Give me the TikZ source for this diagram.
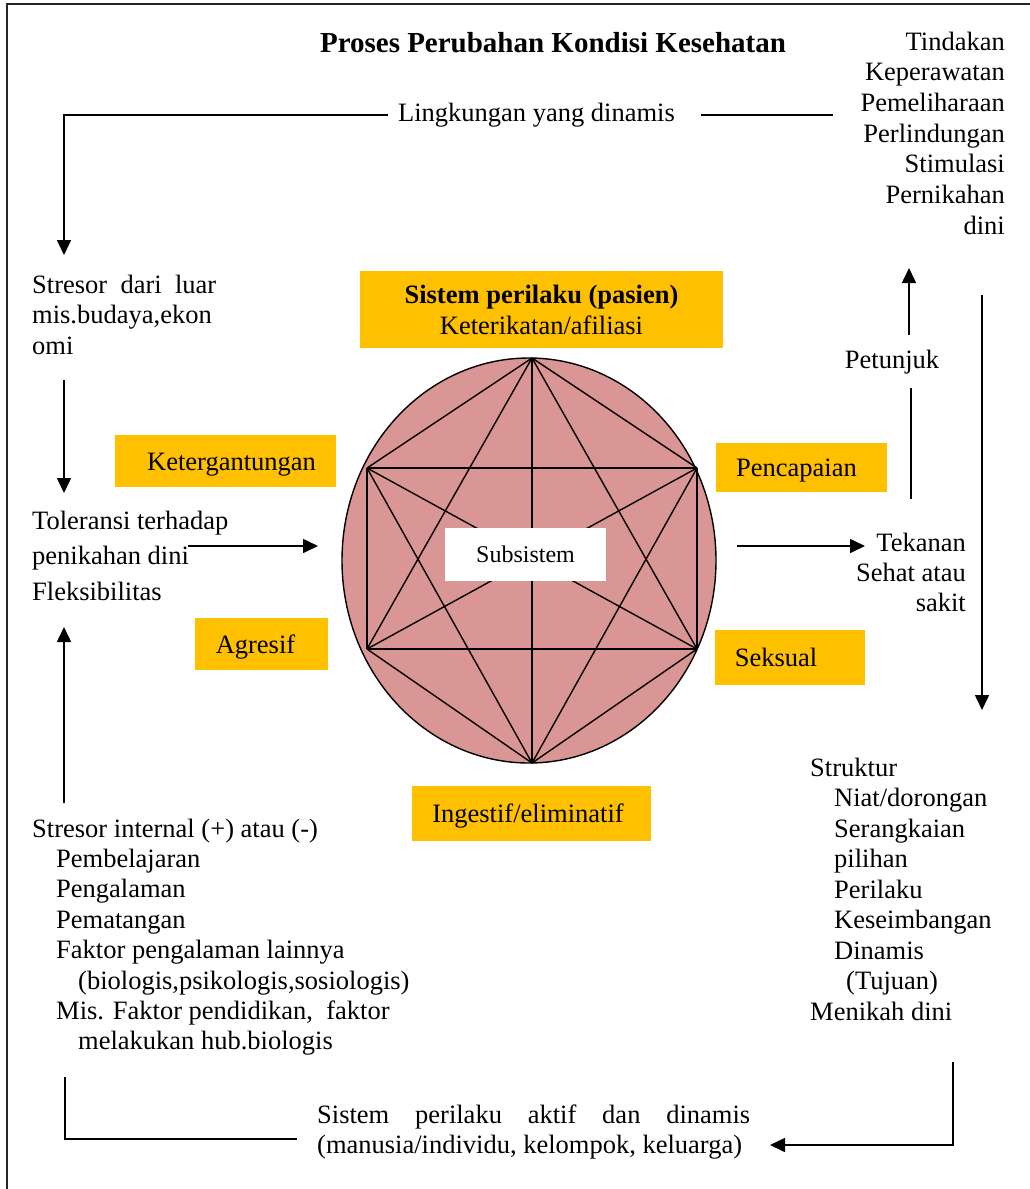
\documentclass[tikz,border=0pt]{standalone}
\usepackage{fontspec}
\setmainfont{Liberation Serif}
\usetikzlibrary{arrows.meta,shapes.geometric,calc}
\definecolor{boxc}{HTML}{FFC000}
\definecolor{ellc}{HTML}{D99694}
\tikzset{
  txt/.style={inner sep=0pt, font=\fontsize{26.5}{30.5}\selectfont},
  ybox/.style={fill=boxc, inner sep=0pt, font=\fontsize{26.5}{31}\selectfont},
  ybox1/.style={ybox, text height=22pt, text depth=4pt},
  conn/.style={line width=1.6pt},
  arr/.style={line width=1.6pt, -{Triangle[length=15pt,width=14pt]}},
  hexl/.style={line width=1.4pt},
}
\begin{document}
\begin{tikzpicture}[x=1pt,y=-1pt]
\useasboundingbox (0,0) rectangle (1030,1189);
% frame
\draw[line width=1.8pt, black!85] (1030,4) -- (7,4) -- (7,1189);

% title
\node[inner sep=0pt, font=\bfseries\fontsize{29}{33}\selectfont] (title) at (553,43) {Proses Perubahan Kondisi Kesehatan};

% top right list
\node[txt, align=right, anchor=north east, font=\fontsize{26.5}{30.67}\selectfont] (tind) at (1005,28.5)
  {\strut Tindakan\\Keperawatan\\Pemeliharaan\\Perlindungan\\Stimulasi\\Pernikahan\\dini};

% environment
\node[txt, inner xsep=10pt] (ling) at (536.5,115) {Lingkungan yang dinamis};

% left texts
\node[txt, align=left, anchor=north west] (sdl) at (32,271.6)
  {\strut\makebox[184pt][s]{Stresor dari luar}\\mis.budaya,ekon\\omi};
\node[txt, align=left, anchor=north west, font=\fontsize{26.5}{35.5}\selectfont] (tol) at (32,504.2)
  {\strut Toleransi terhadap\\penikahan dini\\Fleksibilitas};
\node[txt, align=left, anchor=north west, font=\fontsize{26.5}{30.4}\selectfont] (sint) at (32,815.7)
  {\strut Stresor internal (+) atau (-)\\
   \hspace*{24pt}Pembelajaran\\
   \hspace*{24pt}Pengalaman\\
   \hspace*{24pt}Pematangan\\
   \hspace*{24pt}Faktor pengalaman lainnya\\
   \hspace*{46pt}(biologis,psikologis,sosiologis)\\
   \hspace*{24pt}Mis. Faktor pendidikan,\ \ faktor\\
   \hspace*{46pt}melakukan hub.biologis};

% right texts
\node[txt] (pet) at (892,362) {Petunjuk};
\node[txt, align=right, anchor=north east, font=\fontsize{26.5}{30}\selectfont] (tek) at (966,530)
  {\strut Tekanan\\Sehat atau\\sakit};
\node[txt, align=left, anchor=north west] (str) at (810,754.6)
  {\strut Struktur\\
   \hspace*{24pt}Niat/dorongan\\
   \hspace*{24pt}Serangkaian\\
   \hspace*{24pt}pilihan\\
   \hspace*{24pt}Perilaku\\
   \hspace*{24pt}Keseimbangan\\
   \hspace*{24pt}Dinamis\\
   \hspace*{36pt}(Tujuan)\\
   Menikah dini};

% bottom text
\node[txt, align=left, anchor=north west, font=\fontsize{26.5}{30}\selectfont] (spad) at (317,1102)
  {\strut\makebox[433pt][s]{Sistem perilaku aktif dan dinamis}\\(manusia/individu, kelompok, keluarga)};

% yellow boxes
\node[ybox, minimum width=363pt, minimum height=77pt, align=center] (sys) at (541.5,309.5)
  {\textbf{Sistem perilaku (pasien)}\\Keterikatan/afiliasi};
\node[ybox1, minimum width=221pt, minimum height=52pt] (kete) at (225.5,461) {\hspace*{12pt}Ketergantungan};
\node[ybox1, minimum width=133pt, minimum height=52pt] (agr) at (261.5,644) {Agresif\hspace*{12pt}};
\node[ybox1, minimum width=171pt, minimum height=49pt] (penc) at (801.5,467.5) {Pencapaian\hspace*{10pt}};
\node[ybox1, minimum width=150pt, minimum height=55pt] (seks) at (790,657.5) {Seksual\hspace*{28pt}};
\node[ybox1, minimum width=239pt, minimum height=55pt] (inge) at (531.5,813.5) {Ingestif/eliminatif\hspace*{7pt}};

% ellipse with star
\node[ellipse, draw, fill=ellc, line width=1.4pt, inner sep=0pt, minimum width=374pt, minimum height=405pt] (ell) at (529,560.5) {};
\coordinate (hT) at (532,358);
\coordinate (hB) at (532,763);
\coordinate (hUL) at (367,468);
\coordinate (hUR) at (697,468);
\coordinate (hLL) at (367,649);
\coordinate (hLR) at (697,649);
\foreach \a/\b in {hT/hB,hT/hUL,hT/hUR,hT/hLL,hT/hLR,hB/hUL,hB/hUR,hB/hLL,hB/hLR,hUL/hUR,hUL/hLL,hUL/hLR,hUR/hLL,hUR/hLR,hLL/hLR}
  \draw[hexl, line join=round] (\a) -- (\b);
\node[fill=white, inner sep=0pt, minimum width=161pt, minimum height=53pt, font=\fontsize{24}{28}\selectfont] (subs) at (525.5,554.5) {Subsistem};

% connector end points
\coordinate (sdlIn) at (64,255);
\coordinate (tindIn) at (833,115);
\coordinate (sdlOut) at (64,380);
\coordinate (tolIn) at (64,493);
\coordinate (sintOut) at (64,803);
\coordinate (tolIn2) at (64,627);
\coordinate (tolOut) at (188,546);
\coordinate (ellIn) at (318,546);
\coordinate (ellOut) at (737,546);
\coordinate (tekIn) at (865,546);
\coordinate (tekOut) at (911,499);
\coordinate (petIn) at (911,388);
\coordinate (petOut) at (909,335);
\coordinate (tindIn2) at (909,268);
\coordinate (tindOut) at (982,295);
\coordinate (strIn) at (982,710);
\coordinate (strOut) at (953,1062);
\coordinate (spadIn) at (770,1145);
\coordinate (sintOut2) at (65,1077);
\coordinate (spadL) at (297,1139);

% connectors
\draw[arr] (ling.west) -| (sdlIn);
\draw[conn] ([xshift=16pt]ling.east) -- (tindIn);
\draw[arr] (sdlOut) -- (tolIn);
\draw[arr] (sintOut) -- (tolIn2);
\draw[arr] (tolOut) -- (ellIn);
\draw[arr] (ellOut) -- (tekIn);
\draw[conn] (tekOut) -- (petIn);
\draw[arr] (petOut) -- (tindIn2);
\draw[arr] (tindOut) -- (strIn);
\draw[arr] (strOut) |- (spadIn);
\draw[conn] (sintOut2) |- (spadL);
\end{tikzpicture}
\end{document}
